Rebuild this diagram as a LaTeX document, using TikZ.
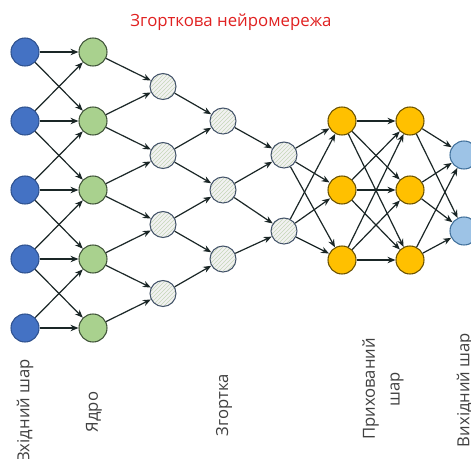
\documentclass[tikz,border=0pt]{standalone}
\usepackage{fontspec}
\setmainfont{Open Sans}
\usepackage{tikz}
\usetikzlibrary{arrows.meta, patterns}
\definecolor{inc}{HTML}{4472C4}
\definecolor{inb}{HTML}{2F528F}
\definecolor{krc}{HTML}{A9D18E}
\definecolor{krb}{HTML}{41553A}
\definecolor{cvb}{HTML}{44546A}
\definecolor{cvh}{HTML}{C5D6B8}
\definecolor{hdc}{HTML}{FFC000}
\definecolor{hdb}{HTML}{6B5200}
\definecolor{otc}{HTML}{9DC3E6}
\definecolor{otb}{HTML}{41719C}
\definecolor{lnc}{HTML}{1A2626}
\definecolor{ttc}{HTML}{E02020}
\definecolor{txc}{HTML}{404040}

\begin{document}
\begin{tikzpicture}[x=0.75pt, y=-0.75pt, >={Stealth[length=6pt, width=4.8pt]},
      neuron/.style={circle, line width=0.8pt, minimum size=21pt, inner sep=0pt},
      inp/.style={neuron, draw=inb, fill=inc},
      krn/.style={neuron, draw=krb, fill=krc},
      cnv/.style={neuron, minimum size=19.5pt, draw=cvb,
                  preaction={fill=white!95!black}, pattern=north east lines,
                  pattern color=cvh},
      hid/.style={neuron, draw=hdb, fill=hdc},
      outp/.style={neuron, draw=otb, fill=otc},
      link/.style={->, lnc, line width=0.9pt},
      lbl/.style={rotate=90, font=\fontsize{12.5}{18.5}\selectfont, txc,
                  align=center}]
    \useasboundingbox (0,0) rectangle (471,458);
    % input layer and kernel, five rows each
    \foreach \i/\y in {1/52, 2/121, 3/190, 4/259, 5/328}{
      \node[inp] (in\i) at (25,\y) {};
      \node[krn] (k\i) at (93,\y) {};
    }
    % convolution stages
    \foreach \i/\y in {1/86.5, 2/155.5, 3/224.5, 4/293.5}
      \node[cnv] (c\i) at (163,\y) {};
    \foreach \i/\y in {1/121, 2/190, 3/259}
      \node[cnv] (d\i) at (223,\y) {};
    \foreach \i/\y in {1/155, 2/231}
      \node[cnv] (e\i) at (284,\y) {};
    % hidden layers and output
    \foreach \i/\y in {1/121, 2/190, 3/260}{
      \node[hid] (h\i) at (342,\y) {};
      \node[hid] (g\i) at (410,\y) {};
    }
    \foreach \i/\y in {1/155, 2/231}
      \node[outp] (o\i) at (464,\y) {};

    % local connections
    \foreach \a/\b in {1/1,1/2,2/1,2/2,2/3,3/2,3/3,3/4,4/3,4/4,4/5,5/4,5/5}
      \draw[link] (in\a) -- (k\b);
    \foreach \a/\b in {1/1,2/1,2/2,3/2,3/3,4/3,4/4,5/4}
      \draw[link] (k\a) -- (c\b);
    \foreach \a/\b in {1/1,2/1,2/2,3/2,3/3,4/3}
      \draw[link] (c\a) -- (d\b);
    \foreach \a/\b in {1/1,2/1,2/2,3/2}
      \draw[link] (d\a) -- (e\b);
    % dense connections
    \foreach \a in {1,2}
      \foreach \b in {1,2,3}
        \draw[link] (e\a) -- (h\b);
    \foreach \a in {1,2,3}
      \foreach \b in {1,2,3}
        \draw[link] (h\a) -- (g\b);
    \foreach \a in {1,2,3}
      \foreach \b in {1,2}
        \draw[link] (g\a) -- (o\b);

    \node[font=\fontsize{12.6}{15}\selectfont, ttc] (ttl) at (231,22)
      {Згорткова нейромережа};
    \node[lbl] (lin) at (25,411) {Вхідний шар};
    \node[lbl] (lkr) at (94,412) {Ядро};
    \node[lbl] (lcv) at (224,405) {Згортка};
    \node[lbl] (lhd) at (383,389) {Прихований\\шар};
    \node[lbl] (lot) at (465,390) {Вихідний шар};
  \end{tikzpicture}
\end{document}
